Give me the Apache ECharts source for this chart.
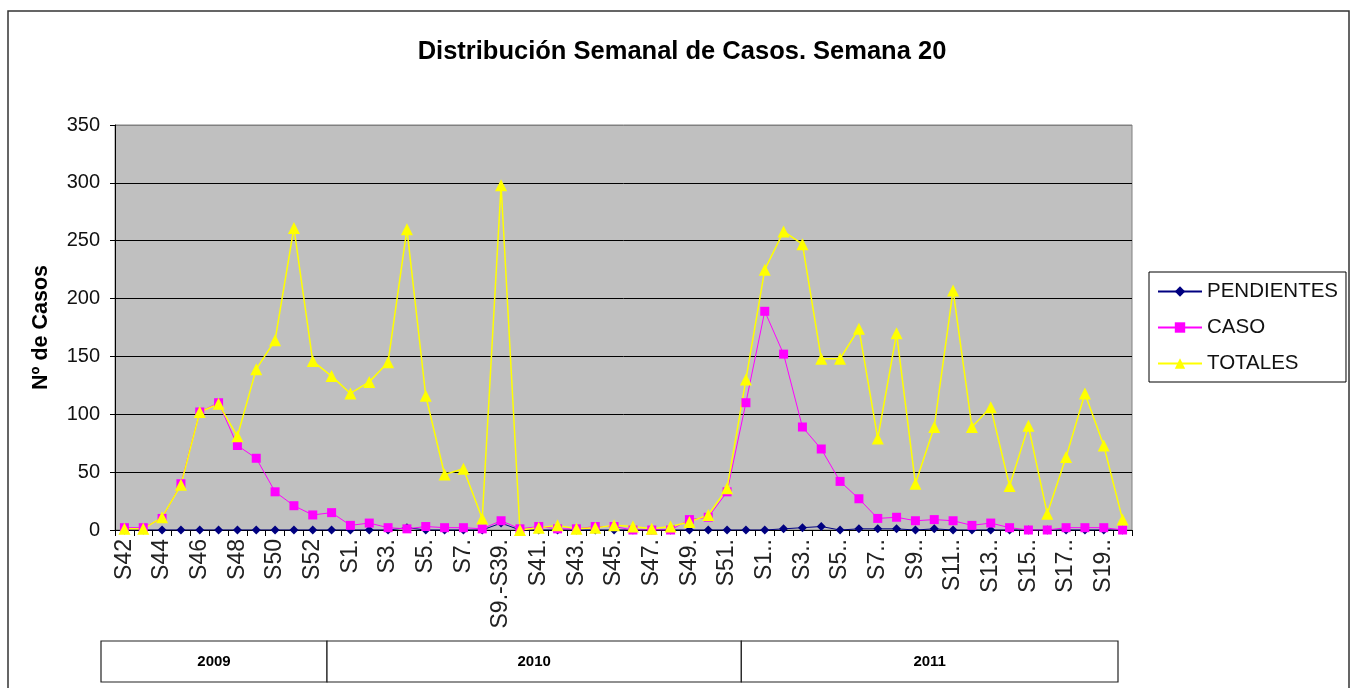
<!DOCTYPE html>
<html><head><meta charset="utf-8">
<script src="https://cdn.jsdelivr.net/npm/echarts@6/dist/echarts.min.js"></script>
<style>html,body{margin:0;padding:0;background:#fff}#c{width:1352px;height:688px}</style>
</head><body><div id="c"></div>
<script>
// ---- data ----
const categories = [
  'S42','S43','S44','S45','S46','S47','S48','S49','S50','S51','S52','S53',
  'S1.','S2.','S3.','S4.','S5.','S6.','S7.','S8.','S9.-S39.','S40.','S41.','S42.','S43.','S44.','S45.','S46.','S47.','S48.','S49.','S50.','S51.','S52.',
  'S1..','S2..','S3..','S4..','S5..','S6..','S7..','S8..','S9..','S10..','S11..','S12..','S13..','S14..','S15..','S16..','S17..','S18..','S19..','S20..'
];
const pendientes = [0,0,0,0,0,0,0,0,0,0,0,0, 0,0,0,2,0,0,0,0,6,0,0,0,0,0,0,0,0,0,0,0,0,0, 0,1,2,3,0,1,1,1,0,1,0,0,0,0,0,0,0,0,0,0];
const caso = [2,2,10,40,102,110,73,62,33,21,13,15, 4,6,2,1,3,2,2,1,8,1,3,1,1,3,3,0,0,0,9,11,33,110, 189,152,89,70,42,27,10,11,8,9,8,4,6,2,0,0,2,2,2,0];
const totales = [1,1,11,39,102,109,81,139,164,261,146,133, 118,128,145,260,116,48,53,10,298,0,2,4,1,2,4,3,1,3,7,13,36,130, 225,258,247,148,148,174,79,170,40,89,207,89,106,38,90,14,63,118,73,9];
const yearLabels = ['2009','2010','2011'];
const yearWeekCounts = [12,22,20];
const yMin = 0, yMax = 350, yStep = 50;

const FONT = 'Liberation Sans, Arial, sans-serif';
const chart = echarts.init(document.getElementById('c'), null, {renderer:'canvas'});
chart.setOption({
  animation:false,
  backgroundColor:'#ffffff',
  title:{text:'Distribución Semanal de Casos. Semana 20', left:677, top:34, textAlign:'center',
    textStyle:{fontFamily:FONT, fontSize:25.5, fontWeight:'bold', color:'#000'}},
  legend:{orient:'vertical', left:1149, top:272, padding:[9,8,8,8], itemGap:15,
    itemWidth:44, itemHeight:13, borderColor:'#000', borderWidth:1, backgroundColor:'#fff',
    textStyle:{fontFamily:FONT, fontSize:20.5, color:'#111', padding:[0,0,0,0]},
    data:['PENDIENTES','CASO','TOTALES']},
  grid:{left:115, top:125, right:220, bottom:158, show:true, backgroundColor:'#C0C0C0', borderColor:'#808080', borderWidth:1},
  xAxis:{type:'category', data:categories, boundaryGap:true,
    axisLine:{lineStyle:{color:'#000', width:1}},
    axisTick:{show:true, interval:0, length:6, lineStyle:{color:'#000'}},
    axisLabel:{interval:1, rotate:90, fontFamily:FONT, fontSize:23, color:'#222', margin:9},
    splitLine:{show:false}},
  yAxis:{type:'value', min:yMin, max:yMax, interval:yStep,
    name:'Nº de Casos', nameLocation:'middle', nameGap:63, nameRotate:90,
    nameTextStyle:{fontFamily:FONT, fontSize:21.5, fontWeight:'bold', color:'#000'},
    axisLine:{show:true, lineStyle:{color:'#000', width:1}},
    axisTick:{show:true, length:5, lineStyle:{color:'#000'}},
    axisLabel:{fontFamily:FONT, fontSize:20, color:'#111', margin:15},
    splitLine:{show:true, lineStyle:{color:['#000','#000','#000','#000','#000','#000','#000','#808080'], width:1}}},
  series:[
    {name:'PENDIENTES', type:'line', data:pendientes, symbol:'diamond', symbolSize:9,
      lineStyle:{color:'#000080', width:1}, itemStyle:{color:'#000080'}},
    {name:'CASO', type:'line', data:caso, symbol:'rect', symbolSize:9,
      lineStyle:{color:'#FF00FF', width:1}, itemStyle:{color:'#FF00FF'}},
    {name:'TOTALES', type:'line', data:totales, symbol:'triangle', symbolSize:12,
      lineStyle:{color:'#FFFF00', width:1.5}, itemStyle:{color:'#FFFF00'}}
  ]
});

// year table beneath the axis, aligned to category boundaries
const p0 = chart.convertToPixel({xAxisIndex:0}, 0);
const p1 = chart.convertToPixel({xAxisIndex:0}, 1);
const band = p1 - p0;
const shift = -14;
const elements = [];
let start = 0;
yearLabels.forEach((lab, k) => {
  const end = start + yearWeekCounts[k];
  const x0 = p0 + (start - 0.5) * band + shift;
  const x1 = p0 + (end - 0.5) * band + shift;
  elements.push({type:'rect', shape:{x:x0, y:641, width:x1-x0, height:41},
    style:{fill:'#fff', stroke:'#222', lineWidth:1.2}, z:10});
  elements.push({type:'text', x:(x0+x1)/2, y:661.5,
    style:{text:lab, font:'bold 15px ' + FONT, fill:'#000', textAlign:'center', textVerticalAlign:'middle'}, z:11});
  start = end;
});
elements.push({type:'rect', shape:{x:8, y:11, width:1341, height:700},
  style:{fill:'none', stroke:'#333', lineWidth:1.5}, z:-1, silent:true});
chart.setOption({graphic:elements});
</script>
</body></html>
